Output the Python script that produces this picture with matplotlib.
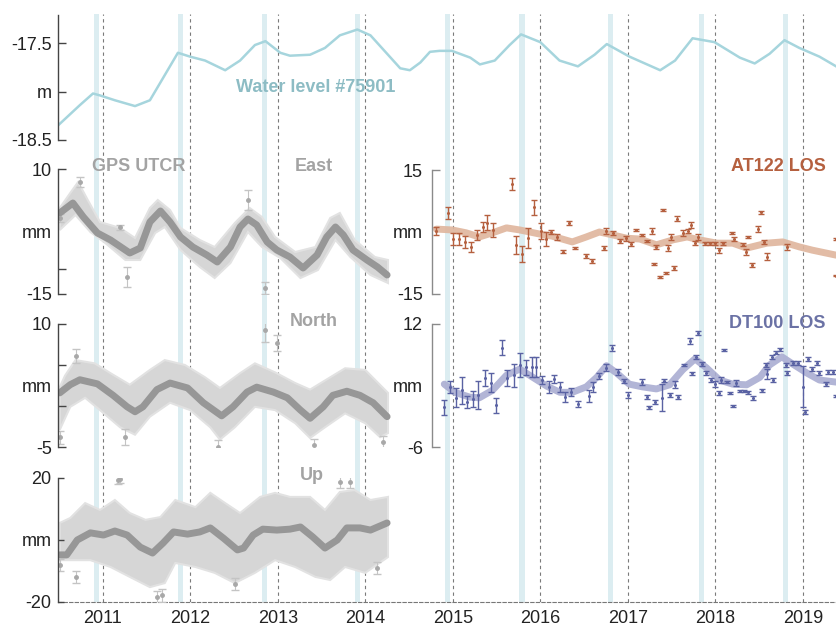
import matplotlib
matplotlib.use("Agg")
import matplotlib.pyplot as plt
import numpy as np

plt.rcParams["font.family"] = ["Liberation Sans", "DejaVu Sans"]

# ---------------------------------------------------------------------------
# data (decimal years)
# ---------------------------------------------------------------------------

YEARS = [2011, 2012, 2013, 2014, 2015, 2016, 2017, 2018, 2019]
BAND_T = [2010.93, 2011.89, 2012.85, 2013.91, 2014.94, 2015.79, 2016.80, 2017.84, 2018.80]

water_t = [2010.49, 2010.74, 2010.89, 2010.97, 2011.14, 2011.37, 2011.54, 2011.71, 2011.86, 2012.00,
           2012.17, 2012.40, 2012.57, 2012.74, 2012.86, 2013.03, 2013.14, 2013.37, 2013.54, 2013.71,
           2013.91, 2014.06, 2014.23, 2014.40, 2014.51, 2014.63, 2014.74, 2014.85, 2014.99, 2015.20,
           2015.31, 2015.48, 2015.65, 2015.78, 2016.00, 2016.22, 2016.43, 2016.62, 2016.76, 2017.02,
           2017.37, 2017.54, 2017.74, 2017.99, 2018.28, 2018.45, 2018.62, 2018.79, 2018.96, 2019.19,
           2019.38]
water_v = [-18.35, -18.14, -18.02, -18.04, -18.09, -18.15, -18.09, -17.83, -17.60, -17.64,
           -17.68, -17.78, -17.68, -17.52, -17.48, -17.60, -17.63, -17.62, -17.55, -17.42,
           -17.36, -17.42, -17.59, -17.76, -17.78, -17.70, -17.59, -17.58, -17.58, -17.65,
           -17.72, -17.68, -17.52, -17.41, -17.49, -17.68, -17.74, -17.62, -17.51, -17.64,
           -17.78, -17.68, -17.45, -17.49, -17.65, -17.71, -17.61, -17.47, -17.55, -17.64,
           -17.74]

# GPS UTCR East
east_t = [2010.51, 2010.66, 2010.78, 2010.94, 2011.09, 2011.31, 2011.43, 2011.54, 2011.66, 2011.77,
          2011.89, 2012.03, 2012.19, 2012.31, 2012.46, 2012.57, 2012.66, 2012.76, 2012.88, 2012.99,
          2013.14, 2013.29, 2013.45, 2013.56, 2013.66, 2013.75, 2013.86, 2014.02, 2014.14, 2014.25]
east_v = [1.2, 3.2, 0.4, -2.8, -4.2, -6.8, -5.8, -0.6, 1.6, -0.6,
          -3.6, -5.6, -7.2, -8.6, -5.6, -1.6, 0.0, -1.2, -4.6, -6.2,
          -7.6, -9.8, -7.2, -3.6, -1.6, -3.2, -6.2, -8.2, -9.6, -11.2]
east_up_t = [2010.51, 2010.63, 2010.72, 2010.83, 2010.97, 2011.20, 2011.37, 2011.54, 2011.63, 2011.77,
             2011.89, 2012.11, 2012.28, 2012.51, 2012.68, 2012.82, 2012.97, 2013.20, 2013.43, 2013.60,
             2013.71, 2013.88, 2014.11, 2014.26]
east_up_v = [2.2, 5.2, 7.4, 3.8, -0.6, -1.8, -3.8, 2.2, 3.8, 1.8,
             -1.8, -4.2, -5.6, -0.8, 2.2, 0.4, -3.6, -6.6, -5.6, 0.2,
             1.2, -4.2, -7.6, -8.2]
east_lo_t = [2010.51, 2010.69, 2010.86, 2011.03, 2011.26, 2011.43, 2011.60, 2011.71, 2011.89, 2012.11,
             2012.28, 2012.46, 2012.66, 2012.82, 2013.03, 2013.26, 2013.46, 2013.66, 2013.83, 2014.06,
             2014.26]
east_lo_v = [-2.2, 0.8, -2.6, -4.8, -8.2, -8.2, -2.8, -1.6, -6.2, -9.6,
             -11.8, -8.8, -2.6, -5.6, -7.8, -11.8, -10.2, -4.2, -7.6, -11.2,
             -12.8]
east_pt_t = [2010.51, 2010.74, 2011.20, 2011.28, 2012.66, 2012.86]
east_pt_v = [0.2, 7.4, -1.6, -11.6, 3.8, -13.8]
east_pt_e = [0.8, 1.0, 0.5, 2.0, 2.0, 1.2]

# GPS UTCR North
north_t = [2010.51, 2010.63, 2010.74, 2010.94, 2011.12, 2011.28, 2011.37, 2011.46, 2011.62, 2011.77,
           2011.97, 2012.15, 2012.36, 2012.49, 2012.65, 2012.76, 2012.95, 2013.11, 2013.26, 2013.37,
           2013.52, 2013.63, 2013.79, 2013.94, 2014.09, 2014.25]
north_v = [1.6, 2.6, 3.2, 2.7, 1.3, -0.1, -0.7, -0.1, 2.0, 2.8,
           2.2, 0.4, -1.2, -0.1, 1.7, 2.3, 1.7, 1.0, -0.5, -1.5,
           -0.1, 1.3, 1.8, 1.3, 0.4, -1.3]
north_up_t = [2010.51, 2010.57, 2010.69, 2010.91, 2011.09, 2011.31, 2011.54, 2011.71, 2011.94, 2012.17,
              2012.34, 2012.57, 2012.74, 2012.97, 2013.20, 2013.37, 2013.60, 2013.77, 2014.00, 2014.26]
north_up_v = [2.3, 3.7, 5.6, 5.2, 4.0, 2.6, 4.4, 5.6, 5.0, 3.5,
              2.2, 4.0, 5.2, 4.1, 2.8, 2.0, 3.5, 4.6, 4.4, 1.6]
north_lo_t = [2010.51, 2010.63, 2010.80, 2010.97, 2011.20, 2011.37, 2011.54, 2011.77, 2012.00, 2012.23,
              2012.34, 2012.51, 2012.74, 2012.97, 2013.20, 2013.37, 2013.54, 2013.77, 2014.00, 2014.17,
              2014.26]
north_lo_v = [-2.9, -0.1, 1.0, -0.5, -2.6, -3.5, -1.3, 0.4, -0.5, -2.6,
              -4.1, -2.6, -0.1, -0.5, -2.1, -3.9, -2.6, -0.9, -2.1, -3.8,
              -3.3]
north_pt_t = [2010.51, 2010.69, 2011.26, 2012.32, 2012.86, 2012.99, 2013.42, 2014.20]
north_pt_v = [-3.8, 6.1, -3.8, -5.0, 9.3, 7.7, -4.8, -4.4]
north_pt_e = [0.8, 0.8, 1.0, 0.8, 1.5, 1.0, 0.8, 0.8]

# GPS UTCR Up
up_t = [2010.51, 2010.59, 2010.71, 2010.86, 2011.01, 2011.14, 2011.28, 2011.43, 2011.57, 2011.69,
        2011.81, 2011.97, 2012.11, 2012.23, 2012.38, 2012.54, 2012.61, 2012.72, 2012.83, 2012.99,
        2013.14, 2013.26, 2013.40, 2013.54, 2013.68, 2013.79, 2013.94, 2014.06, 2014.25]
up_v = [-4.8, -4.8, 0.0, 2.3, 1.6, 2.9, 1.6, -2.3, -4.2, -1.0,
        2.6, 1.9, 2.6, 3.9, 0.6, -3.2, -2.6, 1.6, 3.5, 3.2,
        3.5, 4.2, 1.0, -2.6, 0.0, 3.9, 3.9, 3.2, 5.5]
up_up_t = [2010.51, 2010.63, 2010.80, 2010.97, 2011.14, 2011.31, 2011.49, 2011.66, 2011.83, 2012.06,
           2012.23, 2012.40, 2012.57, 2012.80, 2012.97, 2013.14, 2013.37, 2013.54, 2013.71, 2013.88,
           2014.06, 2014.26]
up_up_v = [5.5, 7.1, 11.9, 9.7, 12.9, 8.7, 6.5, 7.4, 12.9, 10.6,
           15.2, 11.9, 8.7, 13.9, 15.2, 13.9, 13.9, 9.7, 15.5, 16.1,
           12.9, 13.9]
up_lo_t = [2010.51, 2010.69, 2010.86, 2011.09, 2011.31, 2011.54, 2011.71, 2011.83, 2012.06, 2012.28,
           2012.51, 2012.74, 2012.97, 2013.20, 2013.43, 2013.60, 2013.77, 2014.00, 2014.26]
up_lo_v = [-6.5, -6.5, -6.5, -8.7, -11.9, -15.2, -13.9, -7.4, -8.7, -10.6,
           -13.9, -10.6, -6.5, -8.7, -11.9, -12.9, -8.7, -10.6, -5.5]
up_pt_t = [2010.51, 2010.69, 2011.18, 2011.20, 2011.62, 2011.68, 2012.51, 2013.71, 2013.83, 2014.14]
up_pt_v = [-8.1, -11.9, 19.5, 19.8, -18.4, -17.9, -14.2, 18.7, 18.7, -9.0]
up_pt_e = [2.0, 2.0, 1.5, 1.5, 2.0, 2.0, 2.0, 2.0, 2.0, 2.0]

# AT122 LOS
at_t = [2014.82, 2014.95, 2015.01, 2015.08, 2015.15, 2015.22, 2015.28, 2015.35, 2015.40, 2015.47,
        2015.68, 2015.73, 2015.80, 2015.87, 2015.93, 2016.01, 2016.07, 2016.13, 2016.20, 2016.26,
        2016.33, 2016.40, 2016.53, 2016.59, 2016.73, 2016.76, 2016.83, 2016.91, 2016.98, 2017.04,
        2017.10, 2017.17, 2017.22, 2017.28, 2017.30, 2017.33, 2017.37, 2017.40, 2017.44, 2017.46,
        2017.50, 2017.53, 2017.57, 2017.63, 2017.69, 2017.73, 2017.77, 2017.81, 2017.88, 2017.94,
        2018.00, 2018.04, 2018.09, 2018.19, 2018.22, 2018.32, 2018.35, 2018.37, 2018.42, 2018.49,
        2018.52, 2018.56, 2018.59, 2018.82, 2019.38, 2019.38]
at_v = [0.2, 4.6, -1.7, -1.7, -2.4, -3.6, -0.7, 1.2, 2.2, 0.5,
        11.6, -3.1, -5.3, -1.5, 6.0, 0.2, -1.7, 0.0, -1.2, -4.8,
        2.2, -3.9, -5.8, -7.0, -3.9, 0.2, -0.2, -2.2, -1.5, -2.9,
        0.5, -0.7, -2.2, 0.2, -7.7, -3.6, -10.9, 5.3, -9.9, -3.9,
        -1.2, -8.7, 3.2, -0.2, 0.2, 1.7, -2.7, -1.2, -2.7, -2.7,
        -2.7, -4.4, -2.7, -0.2, -1.7, -3.1, -4.8, -1.2, -8.0, 0.7,
        4.8, -2.4, -6.0, -3.6, -1.7, -10.6]
at_e = [0.97, 1.45, 1.45, 1.45, 1.45, 1.2, 1.2, 1.2, 1.8, 1.6,
        1.45, 2.2, 2.0, 2.4, 1.8, 2.0, 1.6, 0.56, 0.65, 0.4,
        0.56, 0.3, 0.4, 0.4, 0.56, 0.8, 0.5, 0.5, 0.65, 0.5,
        0.3, 0.25, 0.3, 0.8, 0.25, 0.5, 0.15, 0.15, 0.25, 0.65,
        0.65, 0.4, 0.65, 0.8, 0.56, 0.65, 0.5, 0.8, 0.4, 0.4,
        0.4, 0.65, 0.4, 0.3, 0.5, 0.4, 0.65, 0.25, 0.4, 0.8,
        0.4, 0.5, 0.8, 0.65, 0.15, 0.15]
at_fit_t = [2014.82, 2015.00, 2015.16, 2015.31, 2015.46, 2015.62, 2015.77, 2016.00, 2016.14, 2016.37,
            2016.53, 2016.68, 2016.83, 2016.99, 2017.14, 2017.33, 2017.52, 2017.68, 2017.82, 2018.02,
            2018.20, 2018.36, 2018.59, 2018.77, 2018.96, 2019.11, 2019.38]
at_fit_v = [0.7, 0.5, -0.2, -1.2, -0.2, 1.0, 0.5, -0.5, -1.0, -2.4,
            -1.2, 0.0, -0.7, -1.5, -1.7, -3.1, -1.9, -1.2, -1.9, -2.7,
            -2.7, -3.9, -2.7, -2.4, -3.6, -4.4, -5.6]

# DT100 LOS
dt_t = [2014.91, 2014.97, 2015.04, 2015.11, 2015.17, 2015.24, 2015.30, 2015.38, 2015.44, 2015.50,
        2015.57, 2015.63, 2015.70, 2015.77, 2015.84, 2015.91, 2015.96, 2016.03, 2016.10, 2016.16,
        2016.23, 2016.29, 2016.36, 2016.43, 2016.56, 2016.61, 2016.68, 2016.75, 2016.82, 2016.89,
        2016.96, 2017.01, 2017.17, 2017.22, 2017.24, 2017.31, 2017.39, 2017.42, 2017.48, 2017.54,
        2017.58, 2017.64, 2017.71, 2017.74, 2017.78, 2017.81, 2017.85, 2017.90, 2017.95, 2018.00,
        2018.04, 2018.07, 2018.10, 2018.14, 2018.17, 2018.20, 2018.24, 2018.28, 2018.33, 2018.37,
        2018.43, 2018.53, 2018.58, 2018.59, 2018.66, 2018.65, 2018.69, 2018.74, 2018.81, 2018.82,
        2018.89, 2018.94, 2019.00, 2019.02, 2019.06, 2019.11, 2019.16, 2019.19, 2019.26, 2019.29,
        2019.34, 2019.38]
dt_v = [-0.2, 2.8, 1.2, 2.3, 0.6, 1.0, 1.6, 4.1, 3.4, 0.1,
        8.5, 4.1, 4.5, 6.0, 5.7, 5.7, 5.7, 3.8, 2.8, 3.9,
        2.8, 1.3, 2.0, 0.3, 1.5, 2.8, 4.4, 5.6, 8.5, 5.0,
        3.7, 1.6, 3.5, 1.3, -0.2, 0.6, 1.2, 3.7, 1.6, 3.1,
        1.3, 6.0, 9.5, 4.8, 7.2, 10.7, 6.1, 4.8, 3.8, 3.2,
        1.9, 3.8, 8.2, 3.5, 1.9, 0.0, 3.4, 2.2, 2.2, 2.0,
        1.2, 2.3, 6.0, 4.7, 3.8, 7.2, 7.8, 8.3, 6.0, 4.8,
        6.3, 6.3, 2.8, -0.9, 6.9, 5.4, 6.3, 4.8, 3.2, 5.0,
        5.0, 1.5]
dt_e = [1.07, 0.9, 1.4, 2.0, 0.9, 1.2, 2.0, 1.1, 1.4, 1.1,
        1.1, 1.2, 1.7, 1.7, 1.1, 1.5, 1.5, 0.6, 0.9, 0.6,
        0.7, 0.7, 0.6, 0.4, 0.9, 0.7, 0.5, 0.5, 0.4, 0.4,
        0.3, 0.5, 0.4, 0.25, 0.2, 0.3, 2.0, 0.25, 0.25, 0.5,
        0.25, 0.2, 0.4, 0.2, 0.3, 0.25, 0.3, 0.3, 0.25, 0.4,
        0.25, 0.4, 0.15, 0.15, 0.15, 0.15, 0.4, 0.2, 0.2, 0.2,
        0.3, 0.25, 0.25, 0.7, 0.25, 0.25, 0.25, 0.25, 0.25, 0.25,
        0.25, 0.25, 3.0, 0.3, 0.3, 0.3, 0.3, 0.25, 0.25, 0.25,
        0.3, 0.15]
dt_fit_t = [2014.91, 2015.03, 2015.20, 2015.31, 2015.46, 2015.62, 2015.77, 2015.92, 2016.08, 2016.23,
            2016.37, 2016.53, 2016.65, 2016.76, 2016.88, 2017.02, 2017.17, 2017.33, 2017.48, 2017.63,
            2017.77, 2017.90, 2018.05, 2018.20, 2018.36, 2018.51, 2018.62, 2018.76, 2018.89, 2019.05,
            2019.19, 2019.38]
dt_fit_v = [3.2, 2.0, 1.3, 1.2, 2.3, 4.5, 5.4, 4.2, 2.9, 2.0,
            2.0, 2.8, 4.2, 5.9, 4.8, 3.2, 2.8, 2.5, 3.1, 5.3,
            6.9, 5.6, 3.8, 3.2, 3.1, 4.2, 6.0, 7.2, 6.1, 4.8,
            3.8, 3.5]

# ---------------------------------------------------------------------------
# style
# ---------------------------------------------------------------------------

W, H = 837, 628
T0, T1 = 2010.49, 2019.39      # full x range of the figure
T0_RIGHT = 2014.77             # left spine of the InSAR column

BAND_C = "#dcedf1"
WATER_C = "#a6d5dd"
WATER_TXT = "#8dbcc4"
GPS_CLOUD = "#d6d6d6"
GPS_DOT = "#a8a8a8"
GPS_LINE = "#979797"
GPS_TXT = "#a3a3a3"
AT_C = "#b5603f"
AT_LINE = "#dfb59d"
DT_C = "#5a62a3"
DT_LINE = "#aaadd2"
FS = 13


def box(x0, y0, x1, y1):
    """pixel box (top-left origin) -> figure fraction rect"""
    return [x0 / W, 1 - y1 / H, (x1 - x0) / W, (y1 - y0) / H]


fig = plt.figure(figsize=(W / 100, H / 100), dpi=100)

# background axes: season bands, year lines, shared time axis
base = fig.add_axes(box(58, 14, 837, 602))
base.set_xlim(T0, T1)
base.set_ylim(0, 1)
for t in BAND_T:
    base.axvspan(t - 0.03, t + 0.03, color=BAND_C, lw=0)
for y in YEARS:
    base.axvline(y, color="#7a7a7a", lw=0.8, ls=(0, (3, 3)))
for s in ["top", "right", "left"]:
    base.spines[s].set_visible(False)
base.spines["bottom"].set_color("#777777")
base.spines["bottom"].set_linestyle((0, (3, 2)))
base.set_yticks([])
base.set_xticks(YEARS)
base.set_xticklabels([str(y) for y in YEARS])
base.tick_params(axis="x", length=0, labelsize=FS, pad=6, labelcolor="#222222")


def panel(rect, xlim, ylim, ticks, labels, hide=(), spine="#444444", pad=4.5):
    ax = fig.add_axes(rect)
    ax.patch.set_visible(False)
    ax.set_xlim(*xlim)
    ax.set_ylim(*ylim)
    for s in ["top", "right", "bottom"]:
        ax.spines[s].set_visible(False)
    ax.spines["left"].set_color(spine)
    ax.spines["left"].set_linewidth(1.0)
    ax.set_xticks([])
    ax.set_yticks(ticks)
    ax.set_yticklabels(labels)
    ax.tick_params(axis="y", direction="in", length=6, width=1, color=spine,
                   labelsize=FS, pad=pad, labelcolor="#222222")
    for i in hide:
        ax.yaxis.get_major_ticks()[i].tick1line.set_visible(False)
    return ax


def gps_cloud(ax, up_t, up_v, lo_t, lo_v, pt_t, pt_v, pt_e, fit_t, fit_v):
    ax.fill(np.concatenate([up_t, lo_t[::-1]]), np.concatenate([up_v, lo_v[::-1]]),
            color=GPS_CLOUD, lw=1.5, ec="#e2e2e2")
    ax.errorbar(pt_t, pt_v, yerr=pt_e, fmt="o", ms=2.5, color=GPS_DOT,
                ecolor="#c4c4c4", elinewidth=0.8, capsize=3)
    ax.plot(fit_t, fit_v, color=GPS_LINE, lw=5, solid_capstyle="round",
            solid_joinstyle="round")


# water level
ax = panel(box(58, 15, 837, 140), (T0, T1), (-18.5, -17.21),
           [-17.5, -18.0, -18.5], ["-17.5", "m", "-18.5"])
ax.plot(water_t, water_v, color=WATER_C, lw=1.8, solid_joinstyle="round")

# GPS east / north / up
ax = panel(box(58, 169, 837, 294), (T0, T1), (-15, 10),
           [10, -2.5, -10, -15], ["10", "mm", "", "-15"], hide=(1,))
gps_cloud(ax, np.array(east_up_t), np.array(east_up_v), np.array(east_lo_t),
          np.array(east_lo_v), east_pt_t, east_pt_v, east_pt_e, east_t, east_v)

ax = panel(box(58, 324, 837, 447), (T0, T1), (-5, 10),
           [10, 5, 2.5, 0, -5], ["10", "", "mm", "", "-5"], hide=(2,))
gps_cloud(ax, np.array(north_up_t), np.array(north_up_v), np.array(north_lo_t),
          np.array(north_lo_v), north_pt_t, north_pt_v, north_pt_e, north_t, north_v)

ax = panel(box(58, 478, 837, 602), (T0, T1), (-20, 20),
           [20, 0, -20], ["20", "mm", "-20"])
ax.tick_params(axis="y", length=4)
gps_cloud(ax, np.array(up_up_t), np.array(up_up_v), np.array(up_lo_t),
          np.array(up_lo_v), up_pt_t, up_pt_v, up_pt_e, up_t, up_v)

# InSAR LOS
ax = panel(box(432, 170, 837, 294), (T0_RIGHT, T1), (-15, 15),
           [15, 0, -15], ["15", "mm", "-15"], hide=(1,), spine="#8a8a8a", pad=6.5)
ax.plot(at_fit_t, at_fit_v, color=AT_LINE, lw=5, solid_capstyle="round", alpha=0.9)
ax.errorbar(at_t, at_v, yerr=at_e, fmt="o", ms=1.2, color=AT_C, elinewidth=1,
            capsize=2.5, capthick=1)

ax = panel(box(432, 324, 837, 447), (T0_RIGHT, T1), (-6, 12),
           [12, 3, -6], ["12", "mm", "-6"], hide=(1,), spine="#8a8a8a", pad=6.5)
ax.plot(dt_fit_t, dt_fit_v, color=DT_LINE, lw=5, solid_capstyle="round", alpha=0.9)
ax.errorbar(dt_t, dt_v, yerr=dt_e, fmt="o", ms=1.2, color=DT_C, elinewidth=1,
            capsize=2.5, capthick=1)

# panel labels
def label(x, y, s, color, ha="left"):
    fig.text(x / W, 1 - y / H, s, color=color, fontsize=FS, fontweight="bold",
             ha=ha, va="center")

label(236, 87, "Water level #75901", WATER_TXT)
label(92, 166, "GPS UTCR", GPS_TXT)
label(295, 166, "East", GPS_TXT)
label(290, 321, "North", GPS_TXT)
label(300, 475, "Up", GPS_TXT)
label(826, 166, "AT122 LOS", AT_C, ha="right")
label(826, 323, "DT100 LOS", "#6b72a5", ha="right")

fig.savefig("out.png", dpi=100)
plt.close(fig)
